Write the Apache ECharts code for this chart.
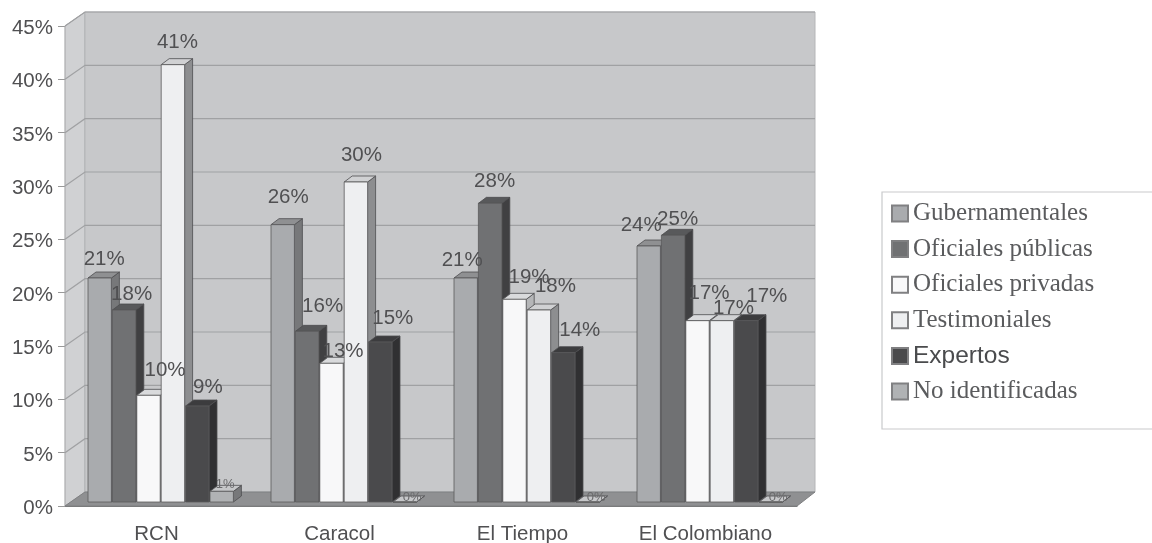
<!DOCTYPE html>
<html><head><meta charset="utf-8">
<style>html,body{margin:0;padding:0;background:#fff;overflow:hidden}#c{width:1152px;height:543px;filter:blur(0.7px)}</style>
<script src="https://cdn.jsdelivr.net/npm/echarts@6/dist/echarts.min.js"></script>
</head><body><div id="c"></div>
<script>
const categories = ['RCN', 'Caracol', 'El Tiempo', 'El Colombiano'];
const seriesNames = ['Gubernamentales', 'Oficiales públicas', 'Oficiales privadas', 'Testimoniales', 'Expertos', 'No identificadas'];
const gubernamentales = [21, 26, 21, 24];
const oficialesPublicas = [18, 16, 28, 25];
const oficialesPrivadas = [10, 13, 19, 17];
const testimoniales = [41, 30, 18, 17];
const expertos = [9, 15, 14, 17];
const noIdentificadas = [1, 0, 0, 0];
const yTicks = [0, 5, 10, 15, 20, 25, 30, 35, 40, 45];
const allValues = [gubernamentales, oficialesPublicas, oficialesPrivadas, testimoniales, expertos, noIdentificadas];

const frontColors = ['#a9abae', '#707173', '#f8f8f9', '#eeeff1', '#4a4a4c', '#b0b2b4'];
const sideColors  = ['#77787a', '#404042', '#b5b6b8', '#8d8e90', '#303032', '#77787a'];
const topColors   = ['#8f9092', '#58595b', '#d9dadc', '#d0d1d3', '#3c3c3e', '#c6c7c9'];

const WALL_DX = 20, WALL_DY = -14;
const BAR_DX = 8, BAR_DY = -6;
const PLANE_DY = -4;
const BAR_START = 23, BAR_W = 24.4;
// hand-placed label nudges of the original chart, [dx, dy] per series, per category
const labelNudge = [
  [[-1, -1], [0, -9], [-9, 0], [-13, -3]],
  [[2, 2], [10, -7], [-1, -4], [-1, 2]],
  [[11, -7], [6, 6], [9, -4], [6, -9]],
  [[-1, -4], [0, -9], [11, -6], [6, 6]],
  [[5, -1], [7, -6], [11, -4], [15, -6]],
  [[-2, 4], [2, 6], [3, 6], [2, 6]]
];

function poly(points, fill, stroke, lw) {
  return { type: 'polygon', shape: { points }, style: { fill, stroke: stroke || fill, lineWidth: lw === undefined ? 1 : lw } };
}

function renderWalls(params, api) {
  const v = api.value(1);
  const p = api.coord([0, v]);
  const x0 = params.coordSys.x, x1 = x0 + params.coordSys.width;
  const children = [];
  if (params.dataIndex === 0) {
    const yb = params.coordSys.y + params.coordSys.height, yt = params.coordSys.y;
    children.push(poly([[x0, yt], [x0 + WALL_DX, yt + WALL_DY], [x0 + WALL_DX, yb + WALL_DY], [x0, yb]], '#d0d1d3', '#a5a6a8'));
    children.push(poly([[x0 + WALL_DX, yt + WALL_DY], [x1 + WALL_DX - 2, yt + WALL_DY], [x1 + WALL_DX - 2, yb + WALL_DY], [x0 + WALL_DX, yb + WALL_DY]], '#c7c8ca', '#b5b6b8'));
    children.push(poly([[x0, yb], [x0 + WALL_DX, yb + WALL_DY], [x1 + WALL_DX - 2, yb + WALL_DY], [x1, yb]], '#8f9092', '#7f8082'));
  }
  if (v > 0) {
    children.push({ type: 'polyline', shape: { points: [[x0, p[1]], [x0 + WALL_DX, p[1] + WALL_DY], [x1 + WALL_DX - 2, p[1] + WALL_DY]] },
      style: { fill: 'none', stroke: '#a0a1a3', lineWidth: 1.2 } });
  }
  return { type: 'group', children };
}

function barGeom(api, seriesIdx, cat, val) {
  const band = api.size([1, 0])[0];
  const c = api.coord([cat, val]);
  const left = c[0] - band / 2 + BAR_START + seriesIdx * BAR_W;
  return { left, top: c[1] + PLANE_DY, base: api.coord([cat, 0])[1] + PLANE_DY };
}

function makeBar(idx) {
  return function (params, api) {
    const g = barGeom(api, idx, api.value(0), api.value(1));
    const l = g.left, r = g.left + BAR_W - 1, t = g.top, b = g.base;
    return { type: 'group', children: [
      poly([[r, t], [r + BAR_DX, t + BAR_DY], [r + BAR_DX, b + BAR_DY], [r, b]], sideColors[idx], '#4d4d4f', 0.8),
      poly([[l, t], [l + BAR_DX, t + BAR_DY], [r + BAR_DX, t + BAR_DY], [r, t]], topColors[idx], '#4d4d4f', 0.8),
      { type: 'rect', shape: { x: l, y: t, width: r - l, height: Math.max(b - t, 0) }, style: { fill: frontColors[idx], stroke: '#5a5a5c', lineWidth: 0.8 } }
    ] };
  };
}

function renderLabel(params, api) {
  const cat = api.value(0), val = api.value(1), idx = api.value(2);
  const g = barGeom(api, idx, cat, val);
  const small = val < 2;
  const n = labelNudge[idx][cat];
  return { type: 'text', style: {
    text: val + '%', x: g.left + BAR_W / 2 + 5 + n[0], y: g.top - (small ? 11 : 18) + n[1],
    fill: small ? '#6a6a6c' : '#505052', font: (small ? '13px' : '20.5px') + ' "Liberation Sans", Arial, sans-serif', align: 'center', verticalAlign: 'middle'
  } };
}

const labelData = [];
allValues.forEach((vals, s) => vals.forEach((v, c) => labelData.push([c, v, s])));

const series = [{
  type: 'custom', name: 'walls', z: 1, silent: true, renderItem: renderWalls,
  data: yTicks.map(v => [0, v]), encode: { x: 0, y: 1 }
}];
seriesNames.forEach((n, i) => series.push({
  type: 'custom', name: n, z: 3 + i, renderItem: makeBar(i),
  itemStyle: { color: frontColors[i], borderColor: '#808082', borderWidth: 1.2 },
  data: allValues[i].map((v, c) => [c, v]), encode: { x: 0, y: 1 }
}));
series.push({ type: 'custom', name: 'labels', z: 20, silent: true, renderItem: renderLabel, data: labelData, encode: { x: 0, y: 1 } });

const serif = '"Liberation Serif", "DejaVu Serif", serif';
const sans = '"Liberation Sans", Arial, sans-serif';
const chart = echarts.init(document.getElementById('c'), null, { renderer: 'canvas' });
chart.setOption({
  animation: false,
  backgroundColor: '#fff',
  grid: { left: 65, right: 355, top: 26, bottom: 37, containLabel: false, outerBoundsMode: 'none' },
  tooltip: { show: false },
  legend: {
    orient: 'vertical', left: 882, top: 192,
    padding: [9, 60, 25, 9],
    backgroundColor: '#fff', borderColor: '#c9cacc', borderWidth: 1.2,
    itemWidth: 16, itemHeight: 16, itemGap: 10.6, icon: 'rect', selectedMode: false,
    textStyle: { fontFamily: serif, fontSize: 25, lineHeight: 20, color: '#5a5b5d', padding: [0, 0, 0, 0] },
    data: seriesNames.map(n => n === 'Expertos'
      ? { name: n, textStyle: { fontFamily: sans, fontSize: 24.5, lineHeight: 20, color: '#4a4b4d' } }
      : { name: n })
  },
  xAxis: {
    type: 'category', data: categories, boundaryGap: true,
    axisLine: { lineStyle: { color: '#777', width: 1.2 } },
    axisTick: { length: 7, lineStyle: { color: '#999' } },
    axisLabel: { color: '#505052', fontSize: 20.5, fontFamily: sans, margin: 18 }
  },
  yAxis: {
    type: 'value', min: 0, max: 45, interval: 5,
    axisLine: { show: true, lineStyle: { color: '#8a8a8c', width: 1.2 } },
    axisTick: { show: true, length: 7, lineStyle: { color: '#999' } },
    splitLine: { show: false },
    axisLabel: {
      margin: 12, formatter: '{t|{value}%}',
      rich: { t: { color: '#505052', fontSize: 20.5, fontFamily: sans, padding: [5, 0, 0, 0] } }
    }
  },
  series
});
</script></body></html>
